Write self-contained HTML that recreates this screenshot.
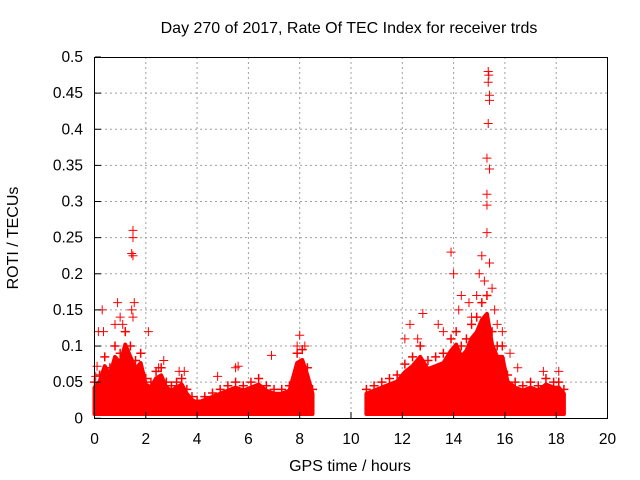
<!DOCTYPE html>
<html><head><meta charset="utf-8"><style>
body{margin:0;background:#fff;}
svg{display:block;font-family:"Liberation Sans",sans-serif;}
</style></head><body>
<svg id="chart" width="640" height="480" viewBox="0 0 640 480">
<rect width="640" height="480" fill="#fff"/>
<g id="grid"></g>
<g id="band"></g>
<g id="pts"></g>
<rect x="94.5" y="57.5" width="513" height="361" fill="none" stroke="#000"/>
<g id="ticks" font-size="15.5" fill="#000"></g>
<text x="349" y="33" text-anchor="middle" font-size="16">Day 270 of 2017, Rate Of TEC Index for receiver trds</text>
<text x="350" y="471" text-anchor="middle" font-size="16">GPS time / hours</text>
<text transform="translate(18,238) rotate(-90)" text-anchor="middle" font-size="16">ROTI / TECUs</text>
</svg>
<script>
const xTicks=[0,2,4,6,8,10,12,14,16,18,20];
const yTicks=[0,0.05,0.1,0.15,0.2,0.25,0.3,0.35,0.4,0.45,0.5];
const yTickLabels=["0","0.05","0.1","0.15","0.2","0.25","0.3","0.35","0.4","0.45","0.5"];
const band1Times=[0,0.2,0.4,0.6,0.8,1.0,1.2,1.4,1.6,1.8,2.0,2.2,2.4,2.6,2.8,3.0,3.2,3.4,3.6,3.8,4.0,4.3,4.6,4.9,5.2,5.5,5.8,6.1,6.4,6.7,7.0,7.3,7.6,7.9,8.1,8.3,8.5];
const band1High=[0.05,0.06,0.085,0.07,0.1,0.09,0.12,0.1,0.08,0.09,0.055,0.05,0.065,0.07,0.05,0.045,0.05,0.055,0.04,0.03,0.025,0.03,0.035,0.04,0.045,0.05,0.045,0.05,0.055,0.045,0.04,0.04,0.045,0.09,0.095,0.07,0.04];
const band2Times=[10.6,10.9,11.2,11.5,11.8,12.1,12.4,12.7,13.0,13.3,13.6,13.9,14.1,14.3,14.5,14.7,14.9,15.1,15.3,15.5,15.7,15.9,16.1,16.4,16.7,17.0,17.3,17.6,17.9,18.1,18.3];
const band2High=[0.04,0.045,0.05,0.055,0.06,0.075,0.085,0.1,0.08,0.085,0.09,0.11,0.12,0.1,0.11,0.13,0.14,0.16,0.17,0.12,0.1,0.1,0.06,0.05,0.045,0.05,0.045,0.055,0.05,0.05,0.04];
const bandLow=0.006;
const ptTimes=[0.3,0.15,0.35,0.9,1.0,1.1,1.45,1.5,1.5,1.45,1.5,1.55,1.5,2.1,2.7,3.3,3.5,5.5,5.6,6.9,8.0,8.2,0.1,0.05,12.1,12.3,12.8,13.4,13.9,14.0,14.3,14.6,14.7,15.0,15.1,15.2,15.3,15.3,15.3,15.3,15.35,15.37,15.35,15.4,15.4,15.35,15.4,15.4,15.5,15.6,15.9,16.2,16.5,17.5,18.1,1.2,0.8,2.5,4.8,7.9,12.6,13.6,14.2,14.9,15.7];
const ptValues=[0.15,0.12,0.12,0.16,0.14,0.13,0.15,0.26,0.25,0.228,0.225,0.16,0.14,0.12,0.08,0.065,0.065,0.07,0.072,0.087,0.115,0.1,0.072,0.058,0.11,0.13,0.145,0.13,0.23,0.2,0.17,0.16,0.14,0.2,0.225,0.19,0.36,0.31,0.295,0.257,0.48,0.475,0.465,0.447,0.44,0.408,0.345,0.215,0.18,0.15,0.12,0.09,0.07,0.065,0.065,0.12,0.13,0.07,0.058,0.1,0.11,0.12,0.15,0.17,0.13];
const X=t=>94.5+t*25.65, Y=v=>418.3-v*722.6;
const NS='http://www.w3.org/2000/svg';
function mk(tag,attrs,parent){const e=document.createElementNS(NS,tag);for(const k in attrs)e.setAttribute(k,attrs[k]);parent.appendChild(e);return e;}
const grid=document.getElementById('grid'),ticks=document.getElementById('ticks');
xTicks.forEach((t,i)=>{
 if(i>0&&i<xTicks.length-1){const l=mk('line',{x1:X(t),x2:X(t),y1:57,y2:418,stroke:'#a0a0a0','stroke-dasharray':'2,3'},grid);
 
 }
 const tx=mk('text',{x:X(t),y:444,'text-anchor':'middle'},ticks);tx.textContent=t;
 
 
 mk('line',{x1:X(t),x2:X(t),y1:418,y2:412,stroke:'#000'},ticks);
});
yTicks.forEach((v,i)=>{
 if(i>0&&i<yTicks.length-1){const l=mk('line',{x1:95,x2:607,y1:Y(v),y2:Y(v),stroke:'#a0a0a0','stroke-dasharray':'2,3'},grid);
 
 }
 const tx=mk('text',{x:83,y:Y(v)+5,'text-anchor':'end'},ticks);tx.textContent=yTickLabels[i];
 
 
 mk('line',{x1:95,x2:101,y1:Y(v),y2:Y(v),stroke:'#000'},ticks);
});
const band=document.getElementById('band'),pts=document.getElementById('pts');
[[band1Times,band1High],[band2Times,band2High]].forEach(([ts,hs])=>{
 let d='M'+X(ts[0])+','+Y(bandLow);
 ts.forEach((t,i)=>{d+=' L'+X(t)+','+Y(hs[i]*0.85);});
 d+=' L'+X(ts[ts.length-1])+','+Y(bandLow)+' Z';
 const p=mk('path',{d:d,fill:'#ff0000',stroke:'#ff0000','stroke-width':4,'stroke-linejoin':'round'},band);
 
 
 ts.forEach((t,i)=>{
  const x=X(t),y=Y(hs[i]);
  const m=mk('path',{d:`M${x-4.5},${y}H${x+4.5}M${x},${y-4.5}V${y+4.5}`,stroke:'#ff0000','stroke-width':1.5},pts);
  
  
 });
});
ptTimes.forEach((t,i)=>{
 const x=X(t),y=Y(ptValues[i]);
 const m=mk('path',{d:`M${x-4.5},${y}H${x+4.5}M${x},${y-4.5}V${y+4.5}`,stroke:'#ff0000','stroke-width':1},pts);
 
 
});
</script>
</body></html>
